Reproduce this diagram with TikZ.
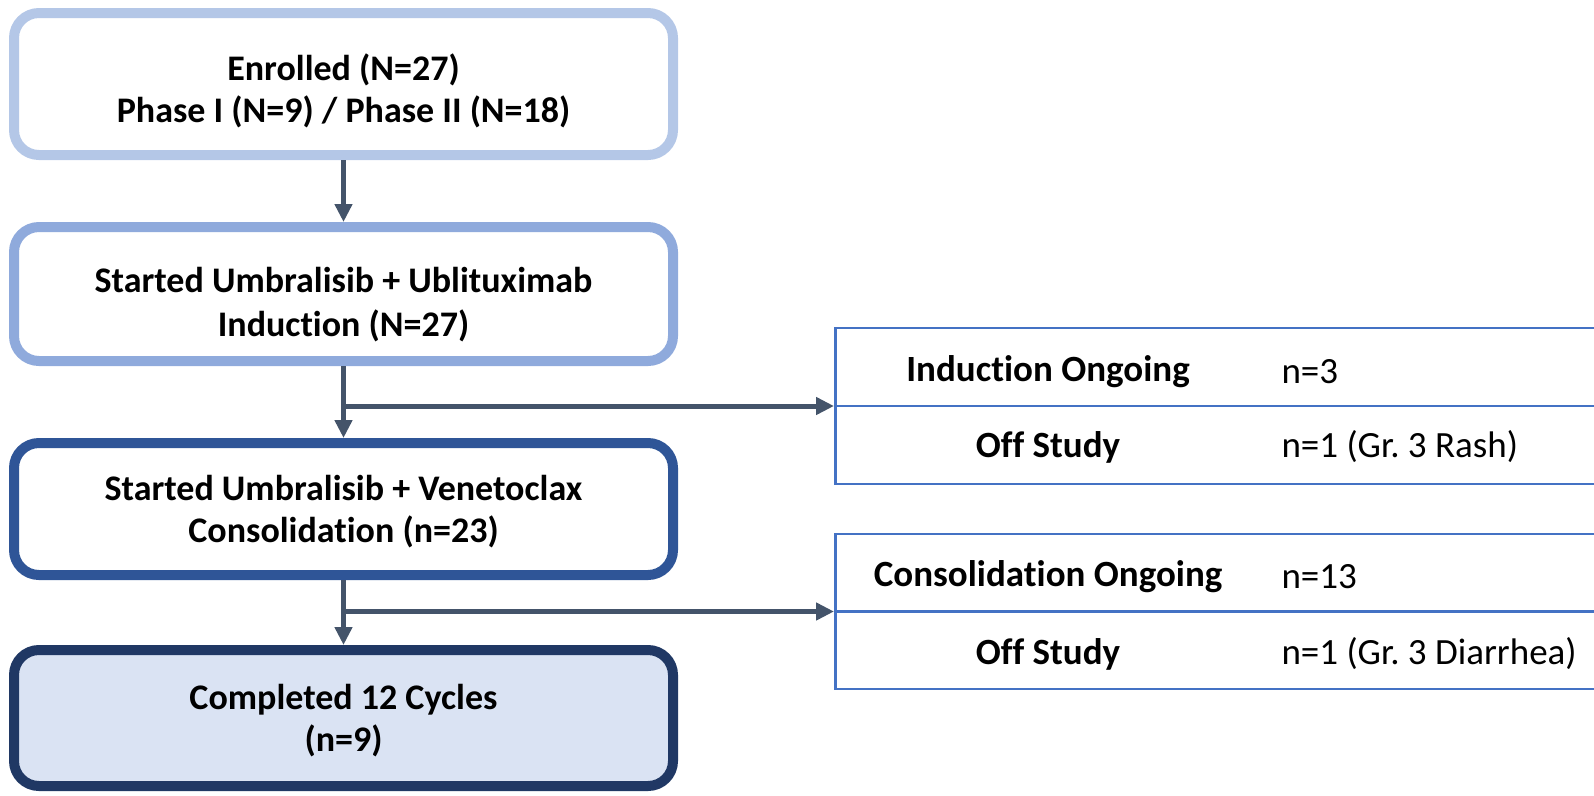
\documentclass[tikz,border=0pt]{standalone}
\usepackage{fontspec}
\setmainfont{Carlito}[RawFeature=-liga]
\usetikzlibrary{arrows.meta}
\frenchspacing

\definecolor{enrolblue}{HTML}{B4C7E7}
\definecolor{inductblue}{HTML}{8FAADC}
\definecolor{consolblue}{HTML}{2F5597}
\definecolor{doneblue}{HTML}{203864}
\definecolor{donefill}{HTML}{DAE3F3}
\definecolor{sideblue}{HTML}{4472C4}
\definecolor{arrowgray}{HTML}{44546A}

\tikzset{
  flowbox/.style={draw, rounded corners=25pt, line width=10pt, fill=white,
    minimum width=659pt, minimum height=136pt, align=center, text depth=0pt,
    font=\bfseries\fontsize{36}{42}\selectfont},
  arr/.style={draw=arrowgray, line width=5pt, -{Triangle[length=18pt,width=17pt]}},
  sidebox/.style={draw=sideblue, line width=2.5pt, minimum width=786pt, anchor=west},
  lbl/.style={font=\bfseries\fontsize{37}{41}\selectfont},
  val/.style={font=\fontsize{37}{41}\selectfont, anchor=west},
}

\begin{document}
\begin{tikzpicture}[x=1pt,y=-1pt]
\clip (0,0) rectangle (1594,795);
\useasboundingbox (0,0) rectangle (1594,795);

% main column
\node[flowbox,draw=enrolblue,minimum height=142pt,text height=76pt] (enrol) at (343.5,84)
  {Enrolled (N=27)\\Phase I (N=9) / Phase II (N=18)};
\node[flowbox,draw=inductblue,minimum height=134pt,text height=84pt,
  font=\bfseries\fontsize{36}{44}\selectfont] (induct) at (343.5,294)
  {Started Umbralisib + Ublituximab\\Induction (N=27)};
\node[flowbox,draw=consolblue,minimum height=132pt] (consol) at (343.5,509)
  {Started Umbralisib + Venetoclax\\Consolidation (n=23)};
\node[flowbox,draw=doneblue,fill=donefill,minimum height=136pt] (done) at (343.5,718)
  {Completed 12 Cycles\\(n=9)};

% side tables
\node[sidebox,minimum height=156pt] (indbox) at (834,406) {};
\draw[sideblue,line width=2.5pt] (indbox.west) -- (indbox.east);
\node[sidebox,minimum height=155pt] (conbox) at (834,611.5) {};
\draw[sideblue,line width=2.5pt] (conbox.west) -- (conbox.east);

\node[lbl] (indon) at (1048,372) {Induction Ongoing};
\node[val] (indonn) at (1278,372) {n=3};
\node[lbl] (indoff) at (1048,447) {Off Study};
\node[val] (indoffn) at (1278,447) {n=1 (Gr. 3 Rash)};
\node[lbl] (conon) at (1048,577) {Consolidation Ongoing};
\node[val] (cononn) at (1278,577) {n=13};
\node[lbl] (conoff) at (1048,654) {Off Study};
\node[val] (conoffn) at (1278,654) {n=1 (Gr. 3 Diarrhea)};

% arrows
\draw[arr] (enrol) -- (induct);
\draw[arr] (induct) -- (consol);
\draw[arr] (consol) -- (done);
\draw[arr] (induct.south |- indbox.west) -- (indbox.west);
\draw[arr] (consol.south |- conbox.west) -- (conbox.west);
\end{tikzpicture}
\end{document}
